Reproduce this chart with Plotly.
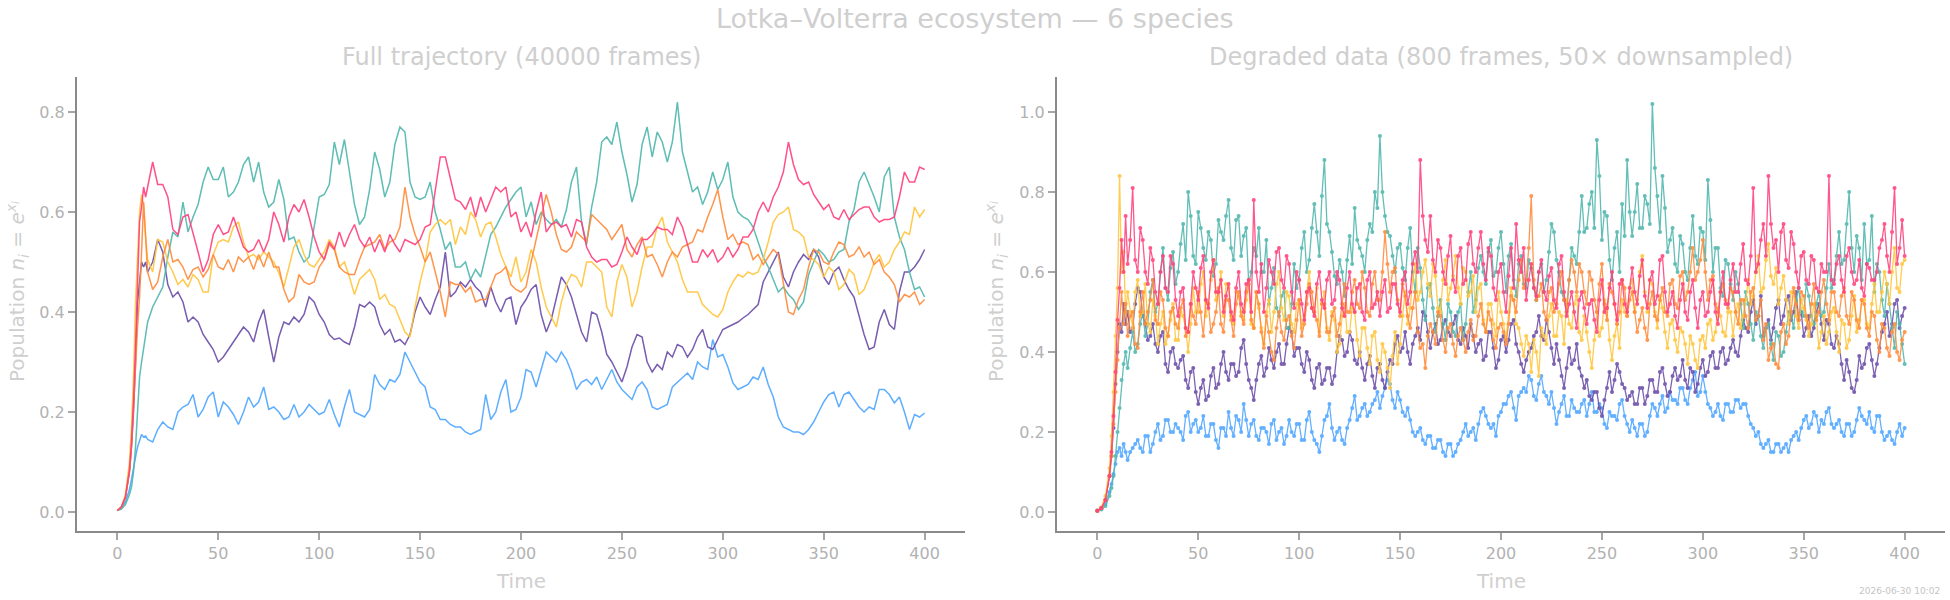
import numpy as np
import plotly.graph_objects as go

# ---------------- data ----------------
T_START = [0, 2, 4, 6, 7, 8, 9, 10, 11, 12, 13, 14]
T_MAIN_FIRST = 15
T_MAIN_LAST = 400
T_MID_FIRST = 16.25
T_MID_LAST = 398.75
X_TICKS = [0, 50, 100, 150, 200, 250, 300, 350, 400]
Y_TICKS_FULL = [0.0, 0.2, 0.4, 0.6, 0.8]
Y_TICKS_DEG = [0.0, 0.2, 0.4, 0.6, 0.8, 1.0]
SPECIES = ["blue", "purple", "teal", "yellow", "orange", "pink"]

# ---- full trajectory ----
FULL_BLUE_START = [0.003, 0.008, 0.02, 0.045, 0.065, 0.09, 0.11, 0.13, 0.145, 0.155, 0.15, 0.152]
FULL_BLUE = [
    0.145, 0.14, 0.165, 0.18, 0.17, 0.165, 0.2, 0.21, 0.215, 0.235,
    0.19, 0.205, 0.23, 0.24, 0.19, 0.22, 0.21, 0.195, 0.175, 0.2,
    0.23, 0.21, 0.22, 0.25, 0.205, 0.21, 0.2, 0.185, 0.19, 0.215,
    0.19, 0.2, 0.215, 0.205, 0.195, 0.2, 0.225, 0.195, 0.17, 0.21,
    0.245, 0.2, 0.195, 0.19, 0.205, 0.275, 0.255, 0.245, 0.265, 0.26,
    0.275, 0.32, 0.3, 0.28, 0.26, 0.25, 0.21, 0.205, 0.185, 0.185,
    0.175, 0.17, 0.17, 0.16, 0.155, 0.16, 0.165, 0.235, 0.185, 0.2,
    0.24, 0.265, 0.2, 0.205, 0.23, 0.285, 0.28, 0.25, 0.285, 0.32,
    0.31, 0.3, 0.32, 0.305, 0.28, 0.245, 0.26, 0.265, 0.255, 0.27,
    0.245, 0.265, 0.285, 0.26, 0.245, 0.235, 0.225, 0.25, 0.26, 0.245,
    0.21, 0.205, 0.21, 0.215, 0.25, 0.26, 0.27, 0.278, 0.265, 0.3,
    0.29, 0.285, 0.345, 0.31, 0.315, 0.29, 0.258, 0.245, 0.25, 0.255,
    0.27, 0.265, 0.29, 0.255, 0.23, 0.19, 0.17, 0.165, 0.16, 0.16,
    0.155, 0.165, 0.18, 0.2, 0.22, 0.235, 0.24, 0.21, 0.235, 0.24,
    0.225, 0.21, 0.2, 0.21, 0.205, 0.245, 0.245, 0.235, 0.218, 0.23,
    0.2, 0.165, 0.195, 0.19, 0.198,
]
FULL_PURPLE_START = [0.003, 0.01, 0.03, 0.08, 0.13, 0.2, 0.3, 0.42, 0.46, 0.5, 0.49, 0.5]
FULL_PURPLE = [
    0.48, 0.5, 0.545, 0.52, 0.455, 0.43, 0.44, 0.42, 0.38, 0.39,
    0.38, 0.355, 0.34, 0.325, 0.3, 0.31, 0.325, 0.34, 0.355, 0.37,
    0.36, 0.34, 0.38, 0.405, 0.35, 0.3, 0.35, 0.38, 0.375, 0.39,
    0.38, 0.395, 0.43, 0.42, 0.395, 0.38, 0.355, 0.345, 0.348, 0.34,
    0.335, 0.37, 0.415, 0.41, 0.42, 0.41, 0.375, 0.355, 0.365, 0.34,
    0.345, 0.335, 0.355, 0.4, 0.43, 0.41, 0.395, 0.425, 0.45, 0.52,
    0.43, 0.44, 0.46, 0.45, 0.465, 0.45, 0.44, 0.41, 0.45, 0.42,
    0.4, 0.425, 0.43, 0.375, 0.41, 0.425, 0.445, 0.455, 0.395, 0.36,
    0.385, 0.43, 0.47, 0.455, 0.43, 0.395, 0.36, 0.34, 0.4, 0.395,
    0.36, 0.315, 0.3, 0.28, 0.26, 0.29, 0.33, 0.355, 0.35, 0.3,
    0.28, 0.295, 0.285, 0.32, 0.31, 0.335, 0.33, 0.31, 0.325, 0.35,
    0.365, 0.33, 0.325, 0.345, 0.365, 0.37, 0.375, 0.38, 0.388, 0.395,
    0.405, 0.415, 0.46, 0.48, 0.5, 0.52, 0.47, 0.45, 0.48, 0.5,
    0.515, 0.505, 0.525, 0.51, 0.47, 0.455, 0.48, 0.49, 0.465, 0.445,
    0.43, 0.39, 0.355, 0.325, 0.33, 0.38, 0.405, 0.375, 0.365, 0.44,
    0.48, 0.48, 0.49, 0.505, 0.525,
]
FULL_TEAL_START = [0.003, 0.006, 0.015, 0.035, 0.05, 0.08, 0.13, 0.19, 0.27, 0.3, 0.33, 0.36]
FULL_TEAL = [
    0.38, 0.41, 0.43, 0.45, 0.51, 0.56, 0.55, 0.62, 0.56, 0.59,
    0.615, 0.66, 0.69, 0.665, 0.665, 0.69, 0.63, 0.64, 0.66, 0.695,
    0.71, 0.66, 0.7, 0.64, 0.61, 0.62, 0.665, 0.625, 0.545, 0.55,
    0.52, 0.5, 0.51, 0.57, 0.63, 0.635, 0.655, 0.74, 0.695, 0.745,
    0.68, 0.615, 0.575, 0.59, 0.645, 0.72, 0.685, 0.63, 0.66, 0.735,
    0.77, 0.76, 0.66, 0.63, 0.625, 0.63, 0.66, 0.6, 0.565, 0.525,
    0.54, 0.49, 0.49, 0.5, 0.465, 0.485, 0.47, 0.51, 0.555, 0.57,
    0.59, 0.61, 0.625, 0.64, 0.65, 0.59, 0.62, 0.575, 0.6, 0.585,
    0.575, 0.585, 0.57, 0.605, 0.66, 0.69, 0.58, 0.535, 0.61, 0.66,
    0.74, 0.75, 0.735, 0.78, 0.72, 0.675, 0.62, 0.655, 0.735, 0.77,
    0.71, 0.76, 0.74, 0.7, 0.74, 0.82, 0.72, 0.68, 0.64, 0.65,
    0.615, 0.64, 0.68, 0.645, 0.665, 0.7, 0.63, 0.6, 0.59, 0.585,
    0.57, 0.54, 0.51, 0.49, 0.465, 0.44, 0.45, 0.435, 0.425, 0.405,
    0.42, 0.475, 0.5, 0.525, 0.515, 0.5, 0.505, 0.52, 0.525, 0.58,
    0.605, 0.66, 0.68, 0.655, 0.63, 0.6, 0.67, 0.69, 0.59, 0.55,
    0.525, 0.48, 0.445, 0.45, 0.43,
]
FULL_YELLOW_START = [0.003, 0.01, 0.035, 0.1, 0.17, 0.27, 0.42, 0.52, 0.6, 0.635, 0.615, 0.55]
FULL_YELLOW = [
    0.505, 0.48, 0.545, 0.54, 0.5, 0.48, 0.455, 0.465, 0.45, 0.475,
    0.465, 0.44, 0.44, 0.515, 0.54, 0.545, 0.54, 0.57, 0.58, 0.54,
    0.51, 0.515, 0.505, 0.52, 0.51, 0.5, 0.478, 0.45, 0.49, 0.53,
    0.545, 0.515, 0.495, 0.49, 0.505, 0.52, 0.545, 0.53, 0.49, 0.5,
    0.47, 0.435, 0.465, 0.475, 0.485, 0.465, 0.425, 0.435, 0.415, 0.41,
    0.385, 0.36, 0.35, 0.41, 0.46, 0.5, 0.56, 0.575, 0.585, 0.575,
    0.585, 0.535, 0.57, 0.555, 0.6, 0.585, 0.55, 0.575, 0.58, 0.55,
    0.515, 0.49, 0.47, 0.51, 0.46, 0.48, 0.525, 0.5, 0.45, 0.41,
    0.39, 0.37, 0.42, 0.455, 0.475, 0.47, 0.45, 0.5, 0.5, 0.49,
    0.48, 0.41, 0.39, 0.46, 0.495, 0.47, 0.41, 0.44, 0.49, 0.53,
    0.53, 0.57, 0.59, 0.54, 0.52, 0.5, 0.465, 0.44, 0.44, 0.44,
    0.415, 0.405, 0.395, 0.39, 0.405, 0.44, 0.46, 0.475, 0.47, 0.48,
    0.475, 0.48, 0.505, 0.54, 0.58, 0.595, 0.6, 0.61, 0.565, 0.56,
    0.55, 0.51, 0.505, 0.495, 0.47, 0.49, 0.48, 0.445, 0.455, 0.485,
    0.475, 0.435, 0.445, 0.47, 0.5, 0.515, 0.49, 0.5, 0.525, 0.54,
    0.56, 0.555, 0.61, 0.59, 0.605,
]
FULL_ORANGE_START = [0.003, 0.01, 0.03, 0.08, 0.13, 0.2, 0.29, 0.37, 0.43, 0.52, 0.62, 0.55]
FULL_ORANGE = [
    0.48, 0.445, 0.46, 0.51, 0.545, 0.5, 0.505, 0.49, 0.465, 0.485,
    0.49, 0.47, 0.485, 0.515, 0.49, 0.485, 0.505, 0.48, 0.51, 0.5,
    0.51, 0.485, 0.515, 0.49, 0.52, 0.49, 0.49, 0.445, 0.42, 0.43,
    0.475, 0.46, 0.455, 0.46, 0.49, 0.505, 0.535, 0.525, 0.49, 0.48,
    0.475, 0.475, 0.505, 0.53, 0.535, 0.54, 0.555, 0.525, 0.54, 0.545,
    0.57, 0.65, 0.59, 0.555, 0.53, 0.5, 0.52, 0.48, 0.44, 0.39,
    0.46, 0.455, 0.455, 0.44, 0.45, 0.42, 0.425, 0.425, 0.45, 0.475,
    0.48, 0.49, 0.455, 0.445, 0.44, 0.45, 0.5, 0.545, 0.59, 0.635,
    0.6, 0.555, 0.525, 0.52, 0.53, 0.56, 0.55, 0.54, 0.595, 0.585,
    0.575, 0.565, 0.545, 0.56, 0.575, 0.525, 0.51, 0.535, 0.55, 0.51,
    0.515, 0.495, 0.47, 0.5, 0.52, 0.51, 0.53, 0.535, 0.54, 0.565,
    0.56, 0.59, 0.615, 0.645, 0.59, 0.545, 0.555, 0.535, 0.54, 0.535,
    0.505, 0.515, 0.495, 0.51, 0.525, 0.515, 0.46, 0.4, 0.395, 0.425,
    0.445, 0.49, 0.525, 0.52, 0.5, 0.495, 0.52, 0.54, 0.535, 0.51,
    0.515, 0.53, 0.51, 0.52, 0.495, 0.505, 0.48, 0.47, 0.455, 0.42,
    0.435, 0.43, 0.44, 0.415, 0.425,
]
FULL_PINK_START = [0.003, 0.01, 0.03, 0.085, 0.14, 0.22, 0.33, 0.46, 0.58, 0.61, 0.65, 0.63]
FULL_PINK = [
    0.65, 0.7, 0.655, 0.655, 0.63, 0.565, 0.555, 0.59, 0.595, 0.56,
    0.52, 0.48, 0.505, 0.555, 0.575, 0.555, 0.56, 0.59, 0.56, 0.53,
    0.52, 0.525, 0.545, 0.52, 0.545, 0.6, 0.575, 0.54, 0.59, 0.615,
    0.6, 0.625, 0.59, 0.55, 0.52, 0.505, 0.54, 0.525, 0.56, 0.53,
    0.555, 0.575, 0.545, 0.53, 0.55, 0.52, 0.545, 0.52, 0.555, 0.535,
    0.52, 0.545, 0.54, 0.535, 0.545, 0.57, 0.575, 0.645, 0.71, 0.71,
    0.67, 0.625, 0.62, 0.605, 0.63, 0.59, 0.63, 0.6, 0.625, 0.65,
    0.64, 0.65, 0.59, 0.6, 0.56, 0.58, 0.55, 0.6, 0.64, 0.56,
    0.575, 0.58, 0.57, 0.575, 0.55, 0.585, 0.58, 0.53, 0.51, 0.5,
    0.505, 0.505, 0.49, 0.495, 0.52, 0.55, 0.53, 0.515, 0.545, 0.545,
    0.555, 0.57, 0.565, 0.565, 0.555, 0.59, 0.57, 0.535, 0.5, 0.5,
    0.525, 0.51, 0.525, 0.5, 0.51, 0.53, 0.51, 0.525, 0.55, 0.55,
    0.565, 0.6, 0.62, 0.6, 0.63, 0.65, 0.68, 0.74, 0.695, 0.665,
    0.655, 0.66, 0.635, 0.62, 0.605, 0.615, 0.59, 0.585, 0.605, 0.585,
    0.595, 0.605, 0.61, 0.61, 0.59, 0.58, 0.585, 0.585, 0.59, 0.63,
    0.68, 0.66, 0.66, 0.69, 0.685,
]

# ---- degraded data: samples on the 2.5 grid (main) and between them (mid) ----
DEG_BLUE_START = [0.003, 0.008, 0.02, 0.05, 0.07, 0.095, 0.12, 0.15, 0.16, 0.14, 0.17, 0.15]
DEG_BLUE = [
    0.13, 0.16, 0.18, 0.15, 0.19, 0.17, 0.22, 0.19, 0.23, 0.2,
    0.21, 0.18, 0.25, 0.22, 0.2, 0.24, 0.19, 0.22, 0.16, 0.21,
    0.25, 0.19, 0.23, 0.27, 0.19, 0.23, 0.18, 0.21, 0.17, 0.23,
    0.2, 0.17, 0.23, 0.19, 0.22, 0.18, 0.25, 0.18, 0.15, 0.23,
    0.27, 0.18, 0.21, 0.17, 0.23, 0.29, 0.24, 0.27, 0.25, 0.28,
    0.26, 0.31, 0.32, 0.26, 0.28, 0.24, 0.23, 0.19, 0.21, 0.17,
    0.19, 0.16, 0.18, 0.14, 0.17, 0.15, 0.18, 0.22, 0.2, 0.18,
    0.25, 0.24, 0.21, 0.19, 0.25, 0.27, 0.3, 0.23, 0.3, 0.3,
    0.33, 0.28, 0.34, 0.29, 0.3, 0.22, 0.27, 0.24, 0.28, 0.25,
    0.27, 0.24, 0.3, 0.25, 0.26, 0.21, 0.24, 0.23, 0.28, 0.22,
    0.23, 0.19, 0.22, 0.2, 0.27, 0.24, 0.29, 0.26, 0.28, 0.27,
    0.31, 0.27, 0.33, 0.29, 0.34, 0.27, 0.24, 0.27, 0.23, 0.27,
    0.25, 0.28, 0.27, 0.24, 0.21, 0.2, 0.16, 0.18, 0.15, 0.17,
    0.16, 0.15, 0.19, 0.18, 0.23, 0.21, 0.25, 0.2, 0.22, 0.26,
    0.21, 0.23, 0.19, 0.22, 0.2, 0.26, 0.23, 0.25, 0.2, 0.24,
    0.18, 0.2, 0.17, 0.22, 0.21,
]
DEG_BLUE_MID = [
    0.15, 0.17, 0.16, 0.19, 0.15, 0.2, 0.18, 0.23, 0.2, 0.22,
    0.2, 0.24, 0.2, 0.23, 0.21, 0.19, 0.22, 0.18, 0.21, 0.19,
    0.21, 0.24, 0.2, 0.23, 0.22, 0.19, 0.21, 0.2, 0.22, 0.18,
    0.21, 0.19, 0.2, 0.22, 0.18, 0.23, 0.2, 0.17, 0.19, 0.24,
    0.21, 0.2, 0.18, 0.21, 0.26, 0.23, 0.26, 0.24, 0.27, 0.3,
    0.29, 0.33, 0.28, 0.3, 0.25, 0.26, 0.2, 0.2, 0.18, 0.19,
    0.16, 0.18, 0.15, 0.17, 0.14, 0.17, 0.2, 0.19, 0.21, 0.22,
    0.26, 0.22, 0.22, 0.24, 0.27, 0.29, 0.26, 0.29, 0.31, 0.34,
    0.29, 0.32, 0.3, 0.27, 0.26, 0.25, 0.29, 0.24, 0.26, 0.25,
    0.28, 0.27, 0.25, 0.27, 0.22, 0.25, 0.24, 0.27, 0.24, 0.2,
    0.21, 0.22, 0.19, 0.24, 0.26, 0.27, 0.25, 0.3, 0.28, 0.31,
    0.28, 0.31, 0.35, 0.3, 0.3, 0.26, 0.25, 0.24, 0.27, 0.25,
    0.28, 0.26, 0.27, 0.22, 0.19, 0.17, 0.17, 0.15, 0.17, 0.15,
    0.17, 0.18, 0.2, 0.21, 0.24, 0.22, 0.24, 0.23, 0.25, 0.22,
    0.22, 0.2, 0.22, 0.19, 0.23, 0.24, 0.22, 0.21, 0.24, 0.2,
    0.19, 0.18, 0.2, 0.19,
]
DEG_PURPLE_START = [0.003, 0.01, 0.03, 0.09, 0.14, 0.21, 0.32, 0.4, 0.47, 0.45, 0.52, 0.47]
DEG_PURPLE = [
    0.5, 0.46, 0.56, 0.49, 0.43, 0.47, 0.4, 0.45, 0.35, 0.41,
    0.36, 0.39, 0.31, 0.36, 0.27, 0.33, 0.29, 0.36, 0.32, 0.4,
    0.33, 0.37, 0.35, 0.43, 0.33, 0.28, 0.37, 0.34, 0.41, 0.36,
    0.42, 0.37, 0.46, 0.39, 0.41, 0.35, 0.38, 0.31, 0.37, 0.33,
    0.36, 0.34, 0.44, 0.39, 0.45, 0.38, 0.4, 0.33, 0.39, 0.31,
    0.37, 0.31, 0.38, 0.42, 0.4, 0.45, 0.37, 0.44, 0.43, 0.49,
    0.41, 0.47, 0.43, 0.48, 0.44, 0.49, 0.42, 0.44, 0.47, 0.4,
    0.43, 0.39, 0.45, 0.36, 0.43, 0.4, 0.47, 0.42, 0.37, 0.38,
    0.41, 0.45, 0.44, 0.48, 0.41, 0.42, 0.34, 0.36, 0.37, 0.42,
    0.34, 0.33, 0.28, 0.3, 0.24, 0.31, 0.3, 0.37, 0.32, 0.28,
    0.3, 0.27, 0.31, 0.29, 0.33, 0.3, 0.36, 0.29, 0.34, 0.33,
    0.38, 0.31, 0.35, 0.32, 0.38, 0.35, 0.4, 0.36, 0.41, 0.38,
    0.43, 0.39, 0.48, 0.45, 0.53, 0.49, 0.44, 0.48, 0.46, 0.53,
    0.49, 0.54, 0.5, 0.48, 0.44, 0.49, 0.46, 0.52, 0.43, 0.47,
    0.41, 0.42, 0.33, 0.35, 0.3, 0.39, 0.37, 0.42, 0.34, 0.41,
    0.47, 0.44, 0.52, 0.46, 0.51,
]
DEG_PURPLE_MID = [
    0.45, 0.52, 0.55, 0.47, 0.44, 0.42, 0.44, 0.37, 0.4, 0.37,
    0.38, 0.33, 0.35, 0.3, 0.31, 0.28, 0.34, 0.31, 0.37, 0.35,
    0.37, 0.34, 0.41, 0.37, 0.31, 0.33, 0.39, 0.36, 0.38, 0.4,
    0.37, 0.42, 0.45, 0.41, 0.37, 0.4, 0.33, 0.36, 0.32, 0.36,
    0.32, 0.4, 0.43, 0.4, 0.43, 0.37, 0.36, 0.37, 0.34, 0.36,
    0.33, 0.35, 0.37, 0.44, 0.41, 0.4, 0.42, 0.46, 0.5, 0.45,
    0.45, 0.42, 0.47, 0.45, 0.47, 0.43, 0.46, 0.41, 0.44, 0.42,
    0.38, 0.45, 0.41, 0.38, 0.44, 0.43, 0.48, 0.4, 0.35, 0.4,
    0.44, 0.49, 0.43, 0.45, 0.37, 0.38, 0.31, 0.41, 0.38, 0.36,
    0.31, 0.29, 0.3, 0.26, 0.28, 0.35, 0.33, 0.35, 0.31, 0.29,
    0.27, 0.31, 0.27, 0.33, 0.3, 0.35, 0.32, 0.3, 0.36, 0.34,
    0.33, 0.36, 0.3, 0.36, 0.34, 0.39, 0.36, 0.4, 0.37, 0.41,
    0.4, 0.44, 0.46, 0.5, 0.47, 0.54, 0.46, 0.43, 0.51, 0.47,
    0.53, 0.48, 0.55, 0.5, 0.46, 0.44, 0.5, 0.47, 0.48, 0.42,
    0.44, 0.37, 0.38, 0.31, 0.33, 0.36, 0.41, 0.38, 0.37, 0.45,
    0.5, 0.47, 0.53, 0.49,
]
DEG_TEAL_START = [0.003, 0.006, 0.015, 0.04, 0.06, 0.09, 0.14, 0.2, 0.26, 0.33, 0.37, 0.4]
DEG_TEAL = [
    0.36, 0.45, 0.42, 0.5, 0.47, 0.58, 0.52, 0.66, 0.53, 0.65,
    0.6, 0.72, 0.8, 0.64, 0.75, 0.66, 0.7, 0.59, 0.73, 0.68,
    0.78, 0.63, 0.74, 0.69, 0.57, 0.66, 0.71, 0.6, 0.52, 0.61,
    0.49, 0.55, 0.46, 0.62, 0.58, 0.7, 0.63, 0.77, 0.64, 0.88,
    0.7, 0.59, 0.63, 0.54, 0.69, 0.76, 0.66, 0.6, 0.72, 0.8,
    0.94, 0.74, 0.69, 0.6, 0.67, 0.58, 0.71, 0.55, 0.61, 0.48,
    0.57, 0.45, 0.53, 0.43, 0.5, 0.44, 0.52, 0.47, 0.6, 0.53,
    0.64, 0.57, 0.68, 0.6, 0.7, 0.55, 0.67, 0.54, 0.64, 0.56,
    0.61, 0.53, 0.62, 0.58, 0.72, 0.63, 0.55, 0.5, 0.66, 0.62,
    0.79, 0.71, 0.8, 0.93, 0.68, 0.74, 0.58, 0.7, 0.77, 0.88,
    0.69, 0.82, 0.71, 0.77, 1.02, 0.79, 0.84, 0.65, 0.71, 0.6,
    0.67, 0.58, 0.74, 0.62, 0.7, 0.83, 0.6, 0.66, 0.54, 0.62,
    0.53, 0.57, 0.46, 0.52, 0.43, 0.49, 0.41, 0.47, 0.38, 0.44,
    0.4, 0.5, 0.46, 0.56, 0.49, 0.54, 0.47, 0.55, 0.5, 0.62,
    0.58, 0.7, 0.63, 0.8, 0.6, 0.66, 0.72, 0.63, 0.55, 0.6,
    0.49, 0.52, 0.41, 0.47, 0.37,
]
DEG_TEAL_MID = [
    0.41, 0.4, 0.47, 0.44, 0.55, 0.5, 0.6, 0.56, 0.61, 0.57,
    0.67, 0.63, 0.74, 0.62, 0.71, 0.63, 0.68, 0.62, 0.7, 0.74,
    0.66, 0.73, 0.64, 0.71, 0.6, 0.64, 0.6, 0.68, 0.56, 0.51,
    0.54, 0.46, 0.52, 0.56, 0.66, 0.6, 0.71, 0.7, 0.79, 0.72,
    0.65, 0.57, 0.6, 0.63, 0.62, 0.68, 0.64, 0.68, 0.7, 0.76,
    0.8, 0.7, 0.64, 0.66, 0.61, 0.66, 0.6, 0.66, 0.53, 0.56,
    0.51, 0.49, 0.47, 0.52, 0.45, 0.5, 0.43, 0.55, 0.5, 0.61,
    0.6, 0.65, 0.59, 0.66, 0.62, 0.64, 0.58, 0.62, 0.57, 0.63,
    0.56, 0.6, 0.55, 0.65, 0.7, 0.6, 0.53, 0.58, 0.64, 0.7,
    0.7, 0.77, 0.71, 0.84, 0.75, 0.63, 0.66, 0.6, 0.69, 0.75,
    0.75, 0.71, 0.79, 0.72, 0.86, 0.7, 0.76, 0.68, 0.62, 0.69,
    0.6, 0.66, 0.64, 0.71, 0.63, 0.73, 0.66, 0.56, 0.63, 0.57,
    0.6, 0.52, 0.55, 0.47, 0.5, 0.44, 0.46, 0.42, 0.45, 0.39,
    0.45, 0.49, 0.53, 0.5, 0.57, 0.49, 0.52, 0.49, 0.56, 0.56,
    0.64, 0.62, 0.72, 0.66, 0.69, 0.58, 0.62, 0.74, 0.62, 0.53,
    0.57, 0.46, 0.5, 0.42,
]
DEG_YELLOW_START = [0.003, 0.012, 0.04, 0.11, 0.19, 0.3, 0.44, 0.56, 0.84, 0.6, 0.65, 0.5]
DEG_YELLOW = [
    0.55, 0.46, 0.58, 0.5, 0.47, 0.53, 0.42, 0.5, 0.44, 0.52,
    0.43, 0.49, 0.4, 0.56, 0.5, 0.6, 0.52, 0.63, 0.55, 0.49,
    0.56, 0.47, 0.54, 0.48, 0.57, 0.46, 0.51, 0.42, 0.53, 0.5,
    0.6, 0.48, 0.54, 0.45, 0.53, 0.49, 0.6, 0.5, 0.45, 0.55,
    0.43, 0.48, 0.42, 0.52, 0.45, 0.5, 0.39, 0.46, 0.37, 0.45,
    0.35, 0.4, 0.31, 0.45, 0.42, 0.55, 0.51, 0.62, 0.55, 0.63,
    0.54, 0.59, 0.5, 0.63, 0.56, 0.64, 0.52, 0.6, 0.55, 0.5,
    0.57, 0.45, 0.52, 0.44, 0.5, 0.43, 0.56, 0.47, 0.42, 0.44,
    0.35, 0.4, 0.46, 0.42, 0.52, 0.44, 0.49, 0.53, 0.46, 0.54,
    0.43, 0.45, 0.36, 0.5, 0.46, 0.51, 0.38, 0.47, 0.53, 0.49,
    0.58, 0.53, 0.64, 0.5, 0.57, 0.46, 0.51, 0.41, 0.48, 0.4,
    0.45, 0.37, 0.42, 0.36, 0.44, 0.47, 0.43, 0.51, 0.45, 0.5,
    0.44, 0.52, 0.49, 0.58, 0.54, 0.64, 0.56, 0.67, 0.57, 0.52,
    0.59, 0.47, 0.55, 0.46, 0.51, 0.44, 0.52, 0.41, 0.49, 0.45,
    0.51, 0.4, 0.47, 0.43, 0.54, 0.48, 0.53, 0.46, 0.57, 0.5,
    0.6, 0.52, 0.66, 0.55, 0.63,
]
DEG_YELLOW_MID = [
    0.5, 0.55, 0.49, 0.57, 0.45, 0.49, 0.47, 0.42, 0.48, 0.43,
    0.5, 0.46, 0.47, 0.5, 0.57, 0.49, 0.58, 0.53, 0.6, 0.57,
    0.49, 0.55, 0.5, 0.53, 0.47, 0.55, 0.46, 0.5, 0.45, 0.57,
    0.51, 0.55, 0.47, 0.52, 0.46, 0.55, 0.51, 0.56, 0.52, 0.46,
    0.5, 0.4, 0.49, 0.45, 0.51, 0.43, 0.46, 0.41, 0.44, 0.38,
    0.42, 0.36, 0.39, 0.37, 0.49, 0.47, 0.58, 0.53, 0.6, 0.57,
    0.62, 0.51, 0.58, 0.53, 0.59, 0.56, 0.61, 0.54, 0.59, 0.56,
    0.48, 0.52, 0.47, 0.55, 0.47, 0.5, 0.53, 0.46, 0.39, 0.42,
    0.43, 0.34, 0.44, 0.49, 0.44, 0.5, 0.42, 0.47, 0.52, 0.45,
    0.49, 0.4, 0.43, 0.44, 0.53, 0.43, 0.44, 0.41, 0.5, 0.56,
    0.5, 0.6, 0.55, 0.58, 0.5, 0.54, 0.45, 0.47, 0.43, 0.46,
    0.42, 0.44, 0.38, 0.43, 0.41, 0.48, 0.45, 0.49, 0.44, 0.5,
    0.5, 0.46, 0.53, 0.52, 0.6, 0.55, 0.63, 0.59, 0.61, 0.56,
    0.53, 0.55, 0.49, 0.53, 0.48, 0.47, 0.49, 0.45, 0.42, 0.5,
    0.45, 0.48, 0.41, 0.49, 0.45, 0.53, 0.47, 0.52, 0.5, 0.55,
    0.57, 0.6, 0.56, 0.62,
]
DEG_ORANGE_START = [0.003, 0.01, 0.03, 0.09, 0.14, 0.22, 0.3, 0.38, 0.46, 0.55, 0.47, 0.52]
DEG_ORANGE = [
    0.44, 0.5, 0.41, 0.55, 0.5, 0.58, 0.47, 0.53, 0.44, 0.51,
    0.46, 0.53, 0.45, 0.49, 0.55, 0.44, 0.52, 0.47, 0.56, 0.45,
    0.53, 0.44, 0.55, 0.47, 0.58, 0.46, 0.52, 0.41, 0.45, 0.38,
    0.5, 0.43, 0.49, 0.41, 0.53, 0.47, 0.57, 0.5, 0.44, 0.52,
    0.45, 0.51, 0.47, 0.57, 0.5, 0.58, 0.51, 0.56, 0.49, 0.6,
    0.53, 0.7, 0.55, 0.61, 0.49, 0.54, 0.46, 0.55, 0.41, 0.36,
    0.47, 0.42, 0.49, 0.4, 0.47, 0.39, 0.46, 0.4, 0.48, 0.44,
    0.52, 0.45, 0.48, 0.41, 0.47, 0.42, 0.54, 0.5, 0.63, 0.58,
    0.79, 0.53, 0.57, 0.48, 0.56, 0.52, 0.6, 0.5, 0.63, 0.55,
    0.6, 0.52, 0.58, 0.5, 0.62, 0.48, 0.55, 0.47, 0.58, 0.49,
    0.55, 0.45, 0.51, 0.43, 0.55, 0.48, 0.56, 0.49, 0.58, 0.51,
    0.6, 0.55, 0.66, 0.6, 0.68, 0.53, 0.59, 0.5, 0.57, 0.51,
    0.55, 0.47, 0.53, 0.46, 0.56, 0.49, 0.43, 0.38, 0.42, 0.36,
    0.47, 0.44, 0.56, 0.48, 0.54, 0.46, 0.57, 0.5, 0.58, 0.48,
    0.55, 0.49, 0.56, 0.47, 0.53, 0.46, 0.52, 0.44, 0.49, 0.4,
    0.46, 0.39, 0.47, 0.38, 0.45,
]
DEG_ORANGE_MID = [
    0.49, 0.42, 0.5, 0.47, 0.53, 0.48, 0.55, 0.46, 0.5, 0.47,
    0.51, 0.44, 0.52, 0.47, 0.5, 0.53, 0.45, 0.5, 0.47, 0.53,
    0.48, 0.52, 0.49, 0.55, 0.48, 0.55, 0.45, 0.49, 0.4, 0.46,
    0.45, 0.48, 0.44, 0.48, 0.44, 0.52, 0.55, 0.48, 0.52, 0.45,
    0.49, 0.44, 0.52, 0.5, 0.55, 0.52, 0.6, 0.5, 0.57, 0.53,
    0.6, 0.62, 0.6, 0.53, 0.57, 0.49, 0.51, 0.45, 0.42, 0.44,
    0.45, 0.5, 0.43, 0.46, 0.42, 0.44, 0.43, 0.45, 0.43, 0.49,
    0.47, 0.5, 0.43, 0.46, 0.45, 0.47, 0.53, 0.58, 0.56, 0.66,
    0.58, 0.54, 0.5, 0.55, 0.5, 0.57, 0.53, 0.58, 0.6, 0.62,
    0.55, 0.6, 0.53, 0.57, 0.52, 0.57, 0.52, 0.5, 0.56, 0.53,
    0.5, 0.48, 0.46, 0.52, 0.49, 0.53, 0.5, 0.57, 0.52, 0.59,
    0.53, 0.6, 0.58, 0.63, 0.6, 0.58, 0.52, 0.55, 0.53, 0.56,
    0.5, 0.53, 0.49, 0.55, 0.48, 0.53, 0.47, 0.41, 0.37, 0.45,
    0.42, 0.5, 0.52, 0.55, 0.49, 0.52, 0.48, 0.55, 0.52, 0.55,
    0.5, 0.54, 0.49, 0.55, 0.48, 0.53, 0.46, 0.5, 0.43, 0.47,
    0.41, 0.45, 0.4, 0.43,
]
DEG_PINK_START = [0.003, 0.01, 0.03, 0.09, 0.15, 0.24, 0.35, 0.48, 0.56, 0.68, 0.6, 0.74]
DEG_PINK = [
    0.62, 0.81, 0.6, 0.68, 0.57, 0.63, 0.52, 0.64, 0.55, 0.62,
    0.49, 0.56, 0.45, 0.6, 0.53, 0.64, 0.51, 0.63, 0.55, 0.5,
    0.57, 0.48, 0.6, 0.5, 0.58, 0.78, 0.55, 0.5, 0.63, 0.57,
    0.66, 0.56, 0.62, 0.51, 0.58, 0.48, 0.56, 0.49, 0.6, 0.51,
    0.6, 0.53, 0.58, 0.49, 0.6, 0.5, 0.57, 0.48, 0.6, 0.52,
    0.49, 0.58, 0.51, 0.57, 0.5, 0.6, 0.55, 0.65, 0.88, 0.68,
    0.74, 0.6, 0.66, 0.57, 0.69, 0.55, 0.66, 0.58, 0.7, 0.6,
    0.7, 0.58, 0.64, 0.53, 0.62, 0.5, 0.66, 0.72, 0.6, 0.53,
    0.62, 0.54, 0.63, 0.53, 0.61, 0.51, 0.64, 0.49, 0.55, 0.46,
    0.55, 0.47, 0.53, 0.45, 0.58, 0.51, 0.6, 0.48, 0.58, 0.5,
    0.61, 0.52, 0.63, 0.51, 0.6, 0.54, 0.64, 0.5, 0.55, 0.46,
    0.57, 0.48, 0.58, 0.46, 0.55, 0.5, 0.58, 0.47, 0.6, 0.52,
    0.62, 0.55, 0.67, 0.57, 0.81, 0.62, 0.72, 0.84, 0.66, 0.6,
    0.72, 0.61, 0.67, 0.56, 0.65, 0.57, 0.63, 0.55, 0.6, 0.84,
    0.57, 0.64, 0.55, 0.66, 0.57, 0.63, 0.54, 0.61, 0.58, 0.66,
    0.72, 0.6, 0.81, 0.66, 0.64,
]
DEG_PINK_MID = [
    0.68, 0.63, 0.71, 0.6, 0.66, 0.55, 0.6, 0.56, 0.64, 0.53,
    0.55, 0.46, 0.52, 0.56, 0.61, 0.53, 0.6, 0.55, 0.58, 0.54,
    0.5, 0.56, 0.52, 0.57, 0.5, 0.6, 0.62, 0.56, 0.6, 0.65,
    0.58, 0.64, 0.55, 0.6, 0.52, 0.55, 0.51, 0.57, 0.53, 0.58,
    0.52, 0.6, 0.51, 0.56, 0.52, 0.56, 0.5, 0.58, 0.51, 0.55,
    0.55, 0.5, 0.57, 0.52, 0.58, 0.52, 0.62, 0.6, 0.74, 0.65,
    0.63, 0.68, 0.6, 0.64, 0.58, 0.64, 0.57, 0.67, 0.62, 0.66,
    0.62, 0.66, 0.56, 0.6, 0.55, 0.59, 0.56, 0.63, 0.66, 0.58,
    0.56, 0.6, 0.55, 0.59, 0.53, 0.62, 0.55, 0.52, 0.5, 0.53,
    0.51, 0.52, 0.48, 0.53, 0.5, 0.56, 0.52, 0.57, 0.52, 0.56,
    0.55, 0.59, 0.54, 0.58, 0.52, 0.63, 0.55, 0.52, 0.49, 0.53,
    0.5, 0.55, 0.51, 0.53, 0.49, 0.55, 0.5, 0.55, 0.52, 0.58,
    0.55, 0.62, 0.58, 0.64, 0.6, 0.68, 0.64, 0.72, 0.68, 0.7,
    0.63, 0.7, 0.6, 0.64, 0.58, 0.64, 0.56, 0.62, 0.6, 0.58,
    0.62, 0.58, 0.64, 0.6, 0.58, 0.56, 0.62, 0.58, 0.6, 0.68,
    0.64, 0.7, 0.62, 0.73,
]

COLORS = {
    "blue": "#4da6ff",
    "purple": "#6a4ca8",
    "teal": "#4db6ac",
    "yellow": "#ffc53a",
    "orange": "#ff8a3a",
    "pink": "#ff3f7c",
}

FULL = {
    "blue": (FULL_BLUE_START, FULL_BLUE),
    "purple": (FULL_PURPLE_START, FULL_PURPLE),
    "teal": (FULL_TEAL_START, FULL_TEAL),
    "yellow": (FULL_YELLOW_START, FULL_YELLOW),
    "orange": (FULL_ORANGE_START, FULL_ORANGE),
    "pink": (FULL_PINK_START, FULL_PINK),
}
DEG = {
    "blue": (DEG_BLUE_START, DEG_BLUE, DEG_BLUE_MID),
    "purple": (DEG_PURPLE_START, DEG_PURPLE, DEG_PURPLE_MID),
    "teal": (DEG_TEAL_START, DEG_TEAL, DEG_TEAL_MID),
    "yellow": (DEG_YELLOW_START, DEG_YELLOW, DEG_YELLOW_MID),
    "orange": (DEG_ORANGE_START, DEG_ORANGE, DEG_ORANGE_MID),
    "pink": (DEG_PINK_START, DEG_PINK, DEG_PINK_MID),
}


def series(start, main, mid=None):
    pts = list(zip(T_START, start))
    pts += list(zip(np.linspace(T_MAIN_FIRST, T_MAIN_LAST, len(main)), main))
    if mid is not None:
        pts += list(zip(np.linspace(T_MID_FIRST, T_MID_LAST, len(mid)), mid))
    pts.sort(key=lambda p: p[0])
    return [p[0] for p in pts], [p[1] for p in pts]


FONT = "DejaVu Sans, Verdana, sans-serif"
TITLE_C = "#cfcfcf"
TICK_C = "#b2b2b2"
LINE_C = "#8a8a8a"

fig = go.Figure()
for name in SPECIES:
    t, v = series(*FULL[name])
    fig.add_trace(go.Scatter(
        x=t, y=v, mode="lines", xaxis="x", yaxis="y",
        line=dict(color=COLORS[name], width=1.5), opacity=0.9,
        hoverinfo="skip", showlegend=False))
for name in SPECIES:
    t, v = series(*DEG[name])
    fig.add_trace(go.Scatter(
        x=t, y=v, mode="lines+markers", xaxis="x2", yaxis="y2",
        line=dict(color=COLORS[name], width=1.3),
        marker=dict(color=COLORS[name], size=4),
        opacity=0.88, hoverinfo="skip", showlegend=False))

W, H = 1950, 600
L1, R1 = 77, 965
L2, R2 = 1057, 1945
TOP, BOT = 77, 531

axis_common = dict(
    showline=True, linecolor=LINE_C, linewidth=2, mirror=False,
    ticks="outside", ticklen=7, tickwidth=1.5, tickcolor="#a6a6a6",
    tickfont=dict(family=FONT, size=16, color=TICK_C),
    showgrid=False, zeroline=False, fixedrange=True,
)

fig.update_layout(
    width=W, height=H,
    margin=dict(l=0, r=0, t=0, b=0),
    paper_bgcolor="white", plot_bgcolor="white",
    showlegend=False,
    xaxis=dict(domain=[L1 / W, R1 / W], range=[-20, 420], tickvals=X_TICKS,
               anchor="y", **axis_common),
    yaxis=dict(domain=[1 - BOT / H, 1 - TOP / H], range=[-0.038, 0.87],
               tickvals=Y_TICKS_FULL, tickformat=".1f", anchor="x", **axis_common),
    xaxis2=dict(domain=[L2 / W, R2 / W], range=[-20, 420], tickvals=X_TICKS,
                anchor="y2", **axis_common),
    yaxis2=dict(domain=[1 - BOT / H, 1 - TOP / H], range=[-0.0475, 1.0875],
                tickvals=Y_TICKS_DEG, tickformat=".1f", anchor="x2", **axis_common),
)

ytitle = "Population <i>n<sub>i</sub></i> = <i>e</i><sup><i>x<sub>i</sub></i></sup>"
annotations = [
    dict(text="Lotka–Volterra ecosystem — 6 species", x=0.5, y=1 - 18 / H,
         font=dict(family=FONT, size=27, color=TITLE_C)),
    dict(text="Full trajectory (40000 frames)", x=(L1 + R1) / 2 / W, y=1 - 57 / H,
         font=dict(family=FONT, size=24, color=TITLE_C)),
    dict(text="Degraded data (800 frames, 50× downsampled)", x=(L2 + R2) / 2 / W, y=1 - 57 / H,
         font=dict(family=FONT, size=24, color=TITLE_C)),
    dict(text="Time", x=(L1 + R1) / 2 / W, y=1 - 581 / H,
         font=dict(family=FONT, size=20, color=TITLE_C)),
    dict(text="Time", x=(L2 + R2) / 2 / W, y=1 - 581 / H,
         font=dict(family=FONT, size=20, color=TITLE_C)),
    dict(text=ytitle, x=17 / W, y=1 - 292 / H, textangle=-90,
         font=dict(family=FONT, size=20, color=TITLE_C)),
    dict(text=ytitle, x=996 / W, y=1 - 292 / H, textangle=-90,
         font=dict(family=FONT, size=20, color=TITLE_C)),
    dict(text="2026-06-30 10:02", x=1942 / W, y=1 - 591 / H, xanchor="right",
         font=dict(family=FONT, size=9, color="#c4c4c4")),
]
for a in annotations:
    a.setdefault("xanchor", "center")
    a.update(xref="paper", yref="paper", yanchor="middle", showarrow=False)
fig.update_layout(annotations=annotations)

fig.write_html("out.html")
